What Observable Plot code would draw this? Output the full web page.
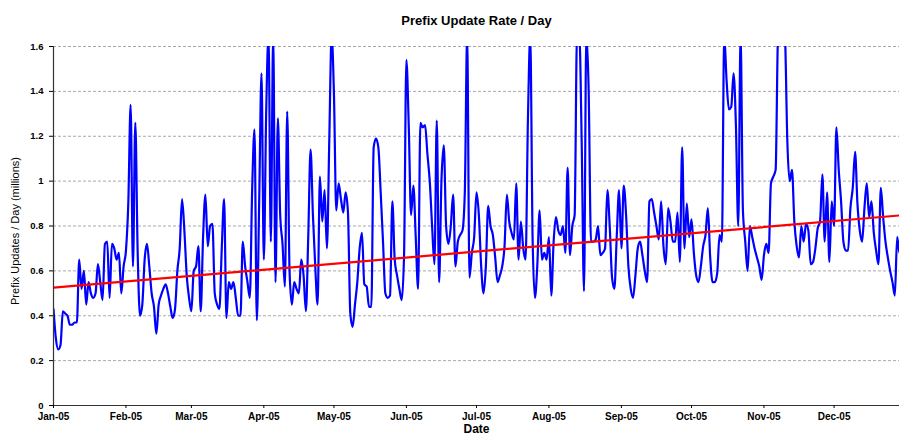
<!DOCTYPE html>
<html><head><meta charset="utf-8">
<script src="https://cdn.jsdelivr.net/npm/d3@7"></script>
<script src="https://cdn.jsdelivr.net/npm/@observablehq/plot@0.6"></script>
<style>html,body{margin:0;padding:0;background:#fff}svg{display:block}</style>
</head><body><div id="chart"></div>
<script>
const title = "Prefix Update Rate / Day";
const yLabel = "Prefix Updates / Day (millions)";
const xLabel = "Date";
const monthLabels = ["Jan-05","Feb-05","Mar-05","Apr-05","May-05","Jun-05","Jul-05","Aug-05","Sep-05","Oct-05","Nov-05","Dec-05"];
const yTicks = [0,0.2,0.4,0.6,0.8,1.0,1.2,1.4,1.6];

// daily updates (millions), by month of 2005
const jan = [0.43,0.30,0.25,0.27,0.42,0.41,0.40,0.36,0.36,0.37,0.37,0.65,0.52,0.60,0.45,0.55,0.50,0.48,0.50,0.63,0.55,0.47,0.72,0.73,0.48,0.72,0.70,0.65,0.68,0.50,0.62];
const feb = [0.69,0.90,1.34,0.62,1.26,0.69,0.40,0.45,0.65,0.72,0.62,0.50,0.44,0.32,0.45,0.49,0.52,0.54,0.50,0.44,0.39,0.43,0.60,0.70,0.92,0.78,0.58,0.48];
const mar = [0.42,0.60,0.62,0.71,0.42,0.75,0.94,0.71,0.80,0.81,0.50,0.45,0.43,0.70,0.92,0.39,0.55,0.52,0.55,0.48,0.40,0.40,0.73,0.62,0.55,0.48,0.96,1.23,0.38,0.90,1.48];
const apr = [0.65,1.30,1.65,0.73,1.65,0.55,1.28,0.85,0.72,0.53,1.31,0.60,0.45,0.55,0.52,0.50,0.65,0.58,0.42,0.75,1.14,0.85,0.62,0.45,1.02,0.82,0.96,0.70,1.18,1.65];
const may = [1.39,0.87,0.99,0.92,0.86,0.95,0.86,0.41,0.35,0.45,0.55,0.70,0.77,0.54,0.53,0.44,0.44,1.15,1.19,1.15,0.95,0.73,0.50,0.48,0.49,0.91,0.65,0.58,0.52,0.47,0.67];
const jun = [1.54,1.25,0.85,0.98,0.75,0.52,1.26,1.24,1.25,1.12,1.00,0.80,0.63,1.27,0.55,1.00,1.16,0.80,0.72,0.80,0.94,0.62,0.73,0.76,0.78,0.95,1.65,0.57,0.68,0.75];
const jul = [0.95,0.85,0.62,0.50,0.62,0.89,0.80,0.76,0.66,0.55,0.58,0.62,0.71,0.94,0.82,0.77,0.74,0.99,0.65,0.82,0.70,0.65,1.27,1.65,0.75,0.48,0.62,0.87,0.65,0.68,0.65];
const aug = [0.75,0.49,0.73,0.84,0.78,0.76,0.80,0.68,1.06,0.67,0.80,0.85,1.65,1.65,1.18,0.51,1.65,1.40,0.73,0.73,0.74,0.80,0.67,0.68,0.70,0.96,0.80,0.57,0.52,0.75,0.96];
const sep = [0.70,0.98,0.85,0.62,0.52,0.48,0.58,0.70,0.73,0.67,0.60,0.55,0.91,0.92,0.86,0.80,0.74,0.91,0.71,0.63,0.88,0.82,0.73,0.73,0.86,0.64,1.15,0.70,0.90,0.75];
const oct = [0.83,0.68,0.58,0.55,0.62,0.71,0.76,0.88,0.66,0.55,0.55,0.59,0.76,0.73,1.65,1.45,1.32,1.33,1.48,1.25,0.80,1.65,0.87,0.73,0.60,0.80,0.75,0.70,0.66,0.62,0.56];
const nov = [0.67,0.72,0.68,0.99,1.02,1.05,1.65,1.75,1.75,1.65,1.18,1.00,1.05,0.82,0.71,0.66,0.80,0.73,0.81,0.78,0.63,0.64,0.70,0.79,0.82,1.03,0.73,0.95,0.64,0.91];
const dec = [0.80,1.24,1.05,0.91,0.73,0.69,0.69,0.88,0.97,1.13,0.90,0.78,0.73,0.88,0.99,0.84,0.91,0.77,0.69,0.63,0.97,0.84,0.73,0.66,0.60,0.55,0.49,0.75,0.68,0.70,0.72];

// linear trend line end points
const trendDates = ["2005-01-01","2005-12-29"];
const trendValues = [0.525, 0.847];

const months = [jan,feb,mar,apr,may,jun,jul,aug,sep,oct,nov,dec];
const daily = months.flat().map((v,i)=>({date:new Date(Date.UTC(2005,0,1+i)), value:v}));
const trend = trendDates.map((d,i)=>({date:new Date(d+"T00:00:00Z"), value:trendValues[i]}));
const monthTicks = monthLabels.map((_,i)=>new Date(Date.UTC(2005,i,1)));
const x0 = new Date(Date.UTC(2005,0,1)), x1 = new Date(Date.UTC(2005,11,29));
const font = "'Liberation Sans', Arial, sans-serif";

const chart = Plot.plot({
  width: 899, height: 437,
  marginLeft: 53, marginRight: 0, marginTop: 46, marginBottom: 32,
  style: {fontFamily: font, background: "#fff", color: "#000"},
  x: {type: "utc", domain: [x0, x1]},
  y: {domain: [0, 1.6]},
  marks: [
    Plot.gridY(yTicks.slice(1), {stroke: "#a8a8a8", strokeOpacity: 1, strokeDasharray: "3,2", strokeWidth: 1}),
    Plot.line(daily, {x: "date", y: "value", stroke: "#0000ff", strokeWidth: 2.2, curve: "monotone-x", clip: true}),
    Plot.line(trend, {x: "date", y: "value", stroke: "#ff0000", strokeWidth: 2.2, clip: true}),
    Plot.ruleX([x0], {stroke: "#333", strokeWidth: 1.2}),
    Plot.ruleY([0], {stroke: "#333", strokeWidth: 1.2}),
    Plot.axisY(yTicks, {tickSize: 4, tickPadding: 6, fontSize: 9.5, fontWeight: "bold", label: null,
      tickFormat: d => String(+d.toFixed(1))}),
    Plot.axisX(monthTicks, {tickSize: 3, tickPadding: 4, fontSize: 10, fontWeight: "bold", label: null,
      tickFormat: d => monthLabels[d.getUTCMonth()]}),
    Plot.text([title], {frameAnchor: "top", dy: -31, fontSize: 13, fontWeight: "bold", text: d => d}),
    Plot.text([xLabel], {frameAnchor: "bottom", dy: 27, fontSize: 12, fontWeight: "bold", text: d => d}),
    Plot.text([yLabel], {frameAnchor: "left", textAnchor: "middle", dx: -38, dy: 5, rotate: -90, fontSize: 11, text: d => d})
  ]
});
document.getElementById("chart").append(chart);
</script>
</body></html>
